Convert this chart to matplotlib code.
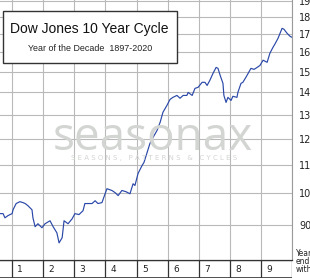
import matplotlib
matplotlib.use("Agg")
import matplotlib.pyplot as plt
from matplotlib.patches import Rectangle
from matplotlib.ticker import NullLocator

# ---- data ----
years = [0.61, 0.71, 0.77, 0.87, 1.00, 1.03, 1.13, 1.25, 1.35, 1.42, 1.51, 1.64, 1.67, 1.74,
         1.83, 1.96, 2.06, 2.22, 2.32, 2.44, 2.51, 2.61, 2.67, 2.80, 2.93, 3.02, 3.15, 3.28,
         3.34, 3.44, 3.57, 3.67, 3.76, 3.89, 3.99, 4.05, 4.21, 4.31, 4.41, 4.53, 4.66, 4.79,
         4.89, 4.95, 5.05, 5.18, 5.24, 5.34, 5.43, 5.53, 5.66, 5.76, 5.85, 5.98, 6.08, 6.17,
         6.30, 6.40, 6.50, 6.62, 6.66, 6.79, 6.88, 6.98, 7.11, 7.20, 7.27, 7.36, 7.46, 7.56,
         7.62, 7.69, 7.78, 7.81, 7.88, 7.94, 8.04, 8.10, 8.23, 8.26, 8.36, 8.42, 8.52, 8.59,
         8.68, 8.78, 8.88, 8.97, 9.07, 9.20, 9.29, 9.39, 9.45, 9.55, 9.68, 9.74, 9.84, 9.94,
         10.00]
values = [93.4, 93.4, 92.1, 92.8, 93.4, 94.6, 96.6, 97.2, 96.9, 96.6, 95.9, 94.6, 92.1, 89.4,
          90.3, 89.1, 90.3, 91.2, 89.4, 87.6, 84.7, 86.2, 91.2, 90.3, 91.8, 93.4, 93.1, 94.3,
          96.6, 96.6, 96.6, 97.5, 96.6, 96.9, 99.8, 101.5, 100.9, 100.2, 99.2, 100.9, 100.5, 99.8,
          103.2, 102.6, 106.8, 109.7, 110.8, 114.5, 118.0, 120.4, 123.3, 126.7, 131.0, 134.1, 136.8, 137.7,
          138.6, 137.3, 138.6, 138.6, 140.0, 138.6, 141.9, 142.4, 144.8, 144.8, 143.3, 145.8, 149.2, 152.2,
          151.7, 148.2, 144.3, 138.6, 135.4, 137.7, 136.3, 138.2, 137.7, 140.0, 144.3, 144.8, 147.3, 149.2,
          151.7, 151.2, 152.2, 153.2, 155.9, 154.8, 159.6, 162.8, 164.5, 167.7, 173.4, 172.9, 170.6, 168.8,
          168.3]
value_ticks = [90, 100, 110, 120, 130, 140, 150, 160, 170, 180, 190]
year_labels = ["0", "1", "2", "3", "4", "5", "6", "7", "8", "9"]
title = "Dow Jones 10 Year Cycle"
subtitle = "Year of the Decade  1897-2020"

# ---- figure ----
W, H = 310, 280
fig = plt.figure(figsize=(W / 100, H / 100), dpi=100)
fig.patch.set_facecolor("white")

def fx(px):
    return px / W

def fy(py):
    return 1 - py / H

# main axes: year 0 at x=-19px, year 10 at x=292px; value 80 at y=260px
x0, x1 = -19, 292
yb = 260
ytop = -14.4
ax = fig.add_axes([fx(x0), fy(yb), (x1 - x0) / W, (yb - ytop) / H])
ax.set_yscale("log")
ax.set_xlim(0, 10)
ax.set_ylim(80, 200)
ax.yaxis.set_minor_locator(NullLocator())
ax.set_yticks(value_ticks)
ax.set_xticks(range(0, 11))
ax.tick_params(left=False, bottom=False, labelleft=False, labelbottom=False,
               right=False, labelright=True, length=0, pad=5)
ax.set_yticklabels([str(v) for v in value_ticks], fontsize=7, color="#222222",
                   family="DejaVu Sans")
ax.grid(True, color="#b9b9b9", lw=0.8)
ax.set_axisbelow(True)
for s in ["top", "left"]:
    ax.spines[s].set_visible(False)
ax.spines["right"].set_color("#9a9a9a")
ax.spines["right"].set_linewidth(0.8)
ax.spines["bottom"].set_color("#333333")
ax.spines["bottom"].set_linewidth(0.9)

ax.plot(years, values, color="#2a48a8", lw=0.85, zorder=5)

# watermark
wm = "#d2d5d2"
fig.text(fx(153), fy(150), "seasonax", fontsize=33, color=wm,
         family="Open Sans", ha="center", va="baseline", zorder=2)
fig.text(fx(154), fy(158), "S E A S O N S ,   P A T T E R N S   &   C Y C L E S",
         fontsize=5, color=wm, family="DejaVu Sans", ha="center", va="center", zorder=2)

# bottom row of year cells
axr = fig.add_axes([fx(x0), fy(278), (x1 - x0) / W, 18 / H])
axr.set_xlim(0, 10)
axr.set_ylim(0, 1)
axr.axis("off")
for k in range(0, 11):
    axr.axvline(k, color="#333333", lw=0.9)
axr.axhline(0, color="#333333", lw=1.2)
axr.axhline(1, color="#333333", lw=0.9)
for k, lab in enumerate(year_labels):
    axr.text(k + 0.17, 0.47, lab, fontsize=6.5, color="#222222",
             family="DejaVu Sans", ha="left", va="center")

# right-side note
for py, t in [(254, "Year"), (262, "ending"), (270, "with")]:
    fig.text(fx(296), fy(py), t, fontsize=5.5, color="#222222",
             family="DejaVu Sans", ha="left", va="center")

# title box
box = Rectangle((fx(3), fy(63)), fx(174), 52 / H, transform=fig.transFigure,
                facecolor="white", edgecolor="#333333", lw=1.0, zorder=10)
fig.patches.append(box)
fig.text(fx(89), fy(29), title, fontsize=10, color="#111111",
         family="Liberation Sans", ha="center", va="center", zorder=11)
fig.text(fx(90), fy(48), subtitle, fontsize=6.4, color="#222222",
         family="Liberation Sans", ha="center", va="center", zorder=11)

fig.savefig("out.png", dpi=100, facecolor="white")
